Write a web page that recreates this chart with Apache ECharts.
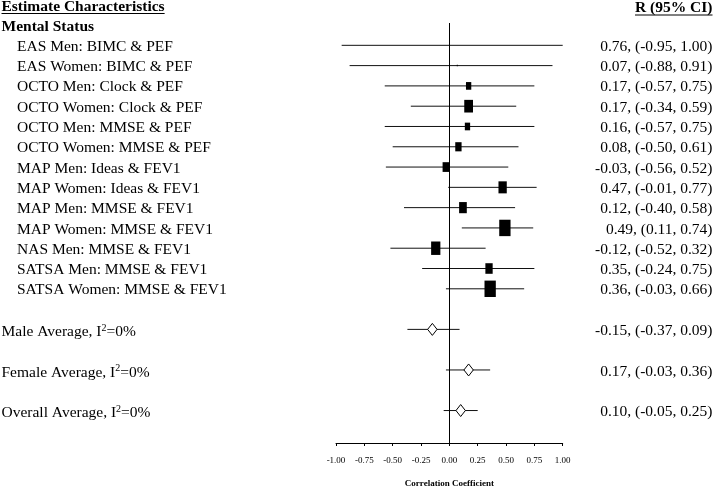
<!DOCTYPE html>
<html><head><meta charset="utf-8">
<script src="https://cdn.jsdelivr.net/npm/echarts@6/dist/echarts.min.js"></script>
<style>html,body{margin:0;padding:0;background:#fff}#c{width:714px;height:486px}</style>
</head><body><div id="c"></div>
<script>
// ---- data ----
const studies = [
  "EAS Men: BIMC & PEF", "EAS Women: BIMC & PEF", "OCTO Men: Clock & PEF", "OCTO Women: Clock & PEF",
  "OCTO Men: MMSE & PEF", "OCTO Women: MMSE & PEF", "MAP Men: Ideas & FEV1", "MAP Women: Ideas & FEV1",
  "MAP Men: MMSE & FEV1", "MAP Women: MMSE & FEV1", "NAS Men: MMSE & FEV1", "SATSA Men: MMSE & FEV1",
  "SATSA Women: MMSE & FEV1"
];
const estimates = [0.76, 0.07, 0.17, 0.17, 0.16, 0.08, -0.03, 0.47, 0.12, 0.49, -0.12, 0.35, 0.36];
const lower     = [-0.95, -0.88, -0.57, -0.34, -0.57, -0.50, -0.56, -0.01, -0.40, 0.11, -0.52, -0.24, -0.03];
const upper     = [1.00, 0.91, 0.75, 0.59, 0.75, 0.61, 0.52, 0.77, 0.58, 0.74, 0.32, 0.75, 0.66];
const weights   = [0, 0.14, 3.8, 10.3, 3.8, 5.4, 6.1, 9.3, 8.0, 17.3, 11.6, 7.2, 17.3];

const pooledNames = ["Male Average", "Female Average", "Overall Average"];
const pooledHeterogeneity = ["0%", "0%", "0%"];
const pooledEst = [-0.15, 0.17, 0.10];
const pooledLo  = [-0.37, -0.03, -0.05];
const pooledHi  = [0.09, 0.36, 0.25];

const headerLeft = "Estimate Characteristics";
const headerRight = "R (95% CI)";
const groupLabel = "Mental Status";
const axisTitle = "Correlation Coefficient";
const xMin = -1, xMax = 1, xStep = 0.25;

// ---- layout / style ----
const FONT = '"Liberation Serif", "Times New Roman", serif';
const FS = 15.5;
const fmt = v => v.toFixed(2);
const ciText = (e, l, h) => fmt(e) + ", (" + fmt(l) + ", " + fmt(h) + ")";

const studyRows = studies.map((s, i) => [i, lower[i], upper[i], estimates[i], i]);
const pooledRows = pooledNames.map((s, j) => [studies.length + 1 + 2 * j, pooledLo[j], pooledHi[j], pooledEst[j], j]);

const TEXT_DY = 1.5;
function textEl(x, y, style) {
  return {type: 'text', x: x, y: y + TEXT_DY, style: Object.assign({fill: '#000', fontFamily: FONT, fontSize: FS, verticalAlign: 'middle'}, style)};
}

const chart = echarts.init(document.getElementById('c'), null, {renderer: 'canvas'});
chart.setOption({
  animation: false,
  backgroundColor: '#fff',
  grid: {left: 336, right: 151.3, top: 23, bottom: 43, containLabel: false, outerBoundsMode: 'none'},
  xAxis: {
    type: 'value', min: xMin, max: xMax, interval: xStep, position: 'bottom',
    axisLine: {show: true, onZero: false, lineStyle: {color: '#000', width: 1}},
    axisTick: {show: true, length: 3, lineStyle: {color: '#000'}},
    splitLine: {show: false},
    axisLabel: {formatter: v => v.toFixed(2), fontFamily: FONT, fontSize: 9, color: '#000', margin: 13},
    name: axisTitle, nameLocation: 'middle', nameGap: 36,
    nameTextStyle: {fontFamily: FONT, fontSize: 9, fontWeight: 'bold', color: '#000'}
  },
  yAxis: {type: 'value', inverse: true, min: -1.1, max: 19.6, show: false},
  series: [
    {
      type: 'custom', name: 'studyCI', data: studyRows, clip: false,
      encode: {x: [1, 2, 3], y: 0},
      renderItem: (params, api) => {
        const k = api.value(0), lo = api.value(1), hi = api.value(2), e = api.value(3), i = api.value(4);
        const p1 = api.coord([lo, k]), p2 = api.coord([hi, k]);
        return {type: 'group', children: [
          {type: 'line', shape: {x1: p1[0], y1: p1[1], x2: p2[0], y2: p2[1]}, style: {stroke: '#111', lineWidth: 1}},
          textEl(17, p1[1], {text: studies[i], align: 'left'}),
          textEl(712.5, p1[1], {text: ciText(e, lo, hi), align: 'right'})
        ]};
      }
    },
    {
      type: 'scatter', name: 'studyEst', symbol: 'rect',
      data: studyRows.map(r => [r[3], r[0]]),
      symbolSize: (v, p) => { const w = 2.72 * Math.sqrt(weights[p.dataIndex]); return [w, w * 1.45]; },
      itemStyle: {color: '#000', opacity: 1},
      markLine: {
        silent: true, symbol: ['none', 'none'], label: {show: false},
        lineStyle: {color: '#000', width: 1, type: 'solid'},
        data: [{xAxis: 0}]
      }
    },
    {
      type: 'custom', name: 'pooled', data: pooledRows, clip: false,
      encode: {x: [1, 2, 3], y: 0},
      renderItem: (params, api) => {
        const k = api.value(0), lo = api.value(1), hi = api.value(2), e = api.value(3), j = api.value(4);
        const p1 = api.coord([lo, k]), p2 = api.coord([hi, k]), pe = api.coord([e, k]);
        const hw = 4.7, hh = 6;
        return {type: 'group', children: [
          {type: 'line', shape: {x1: p1[0], y1: p1[1], x2: p2[0], y2: p2[1]}, style: {stroke: '#111', lineWidth: 1}},
          {type: 'polygon', shape: {points: [[pe[0], pe[1] - hh], [pe[0] + hw, pe[1]], [pe[0], pe[1] + hh], [pe[0] - hw, pe[1]]]},
           style: {fill: '#fff', stroke: '#000', lineWidth: 1}},
          textEl(1.5, p1[1], {
            text: '{n|' + pooledNames[j] + ', I}{s|2}{n|=' + pooledHeterogeneity[j] + '}', align: 'left',
            rich: {
              n: {fontFamily: FONT, fontSize: FS, fill: '#000', lineHeight: 18, verticalAlign: 'bottom'},
              s: {fontFamily: FONT, fontSize: 10, fill: '#000', lineHeight: 18, verticalAlign: 'top', padding: [1, 0, 0, 0]}
            }
          }),
          textEl(712.5, p1[1], {text: ciText(e, lo, hi), align: 'right'})
        ]};
      }
    }
  ]
});

// headers
const ctx = document.createElement('canvas').getContext('2d');
const boldFont = 'bold ' + FS + 'px ' + FONT;
ctx.font = boldFont;
const wl = ctx.measureText(headerLeft).width, wr = ctx.measureText(headerRight).width;
const yGroup = chart.convertToPixel({gridIndex: 0}, [0, -1])[1];
chart.setOption({
  graphic: [
    {type: 'text', x: 1.5, y: 7, style: {text: headerLeft, font: boldFont, fill: '#000', align: 'left', verticalAlign: 'middle'}},
    {type: 'line', shape: {x1: 1.5, y1: 13.5, x2: 1.5 + wl, y2: 13.5}, style: {stroke: '#000', lineWidth: 1}},
    {type: 'text', x: 712.5, y: 8, style: {text: headerRight, font: boldFont, fill: '#000', align: 'right', verticalAlign: 'middle'}},
    {type: 'line', shape: {x1: 712.5 - wr, y1: 15, x2: 712.5, y2: 15}, style: {stroke: '#000', lineWidth: 1}},
    {type: 'text', x: 1.5, y: yGroup + TEXT_DY, style: {text: groupLabel, font: boldFont, fill: '#000', align: 'left', verticalAlign: 'middle'}}
  ]
});
</script>
</body></html>
